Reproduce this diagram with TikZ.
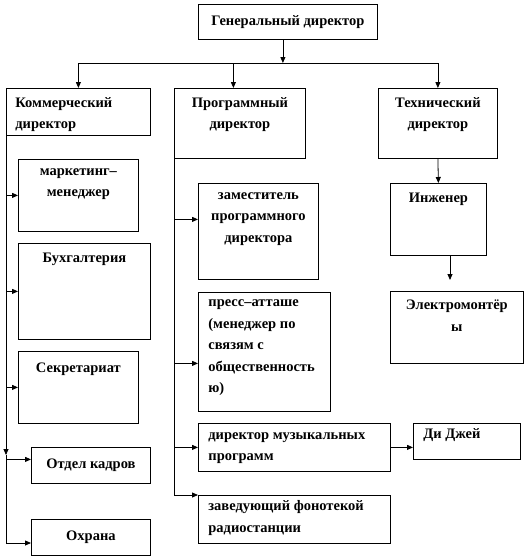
\documentclass[tikz,border=0pt]{standalone}
\usepackage{fontspec}
\setmainfont{Liberation Serif}
\usetikzlibrary{positioning,arrows.meta}

\begin{document}
\begin{tikzpicture}[
  x=1pt, y=-1pt, line width=0.8pt,
  font=\fontsize{14.5}{21.5}\selectfont\bfseries,
  blok/.style={draw, anchor=north west, inner sep=0pt},
  txt/.style={inner sep=0pt, align=center, execute at begin node={\rule{0pt}{10.5pt}}},
  txtl/.style={txt, align=left},
  flecha/.style={-{Triangle[length=6pt,width=5pt]}}
]
  \useasboundingbox (0,0) rectangle (525,558);

  \node[blok, minimum width=179pt, minimum height=35pt] (gd) at (198,4) {Генеральный директор};

  \node[blok, minimum width=144pt, minimum height=47pt] (komm) at (6,88) {};
  \node[txtl, anchor=north west] (kommt) at ([xshift=9pt, yshift=-9pt]komm.north west) {Коммерческий\\директор};
  \node[blok, minimum width=131pt, minimum height=70pt] (prog) at (174,88) {};
  \node[txt, anchor=north] (progt) at ([yshift=-9pt]prog.north) {Программный\\директор};
  \node[blok, minimum width=119pt, minimum height=70pt] (tech) at (378,88) {};
  \node[txt, anchor=north] (techt) at ([yshift=-9pt]tech.north) {Технический\\директор};

  % коммерческий
  \node[blok, minimum width=120pt, minimum height=72pt] (mm) at (18,159) {};
  \node[txt, anchor=north] (mmt) at ([yshift=-9pt]mm.north) {маркетинг–\\менеджер};
  \node[blok, minimum width=132pt, minimum height=96pt] (buh) at (18,243) {};
  \node[txt, anchor=north] (buht) at ([yshift=-9pt]buh.north) {Бухгалтерия};
  \node[blok, minimum width=120pt, minimum height=72pt] (sek) at (18,351) {};
  \node[txt, anchor=north] (sekt) at ([yshift=-10.5pt]sek.north) {Секретариат};
  \node[blok, minimum width=119pt, minimum height=36pt] (ok) at (31,447) {Отдел кадров};
  \node[blok, minimum width=119pt, minimum height=36pt] (ohr) at (31,519) {Охрана};

  % программный
  \node[blok, minimum width=120pt, minimum height=96pt] (zam) at (198,183) {};
  \node[txt, anchor=north] (zamt) at ([yshift=-9pt]zam.north) {заместитель\\программного\\директора};
  \node[blok, minimum width=132pt, minimum height=119pt] (press) at (198,292) {};
  \node[txtl, anchor=north west] (presst) at ([xshift=10pt, yshift=-7.5pt]press.north west) {пресс–атташе\\(менеджер по\\связям с\\общественность\\ю)};
  \node[blok, minimum width=192pt, minimum height=48pt] (muz) at (198,423) {};
  \node[txtl, anchor=north west] (muzt) at ([xshift=10pt, yshift=-9pt]muz.north west) {директор музыкальных\\программ};
  \node[blok, minimum width=192pt, minimum height=48pt] (zav) at (198,495) {};
  \node[txtl, anchor=north west] (zavt) at ([xshift=10pt, yshift=-5.5pt]zav.north west) {заведующий фонотекой\\радиостанции};
  \node[blok, minimum width=107pt, minimum height=36pt] (dj) at (413,423) {};
  \node[txtl, anchor=north west] (djt) at ([xshift=10pt, yshift=-4.5pt]dj.north west) {Ди Джей};

  % технический
  \node[blok, minimum width=96pt, minimum height=72pt] (ing) at (390,183) {};
  \node[txt, anchor=north] (ingt) at ([yshift=-9pt]ing.north) {Инженер};
  \node[blok, minimum width=133pt, minimum height=72pt] (el) at (390,291) {};
  \node[txt, anchor=north] (elt) at ([yshift=-8.5pt]el.north) {Электромонтёр\\ы};

  \coordinate (bus) at (0,63);
  \coordinate (lk) at (6,455);
  \coordinate (lend) at (6,543);
  \coordinate (ie) at (450,280);

  \draw[flecha] ([xshift=-5pt]gd.south) -- ([xshift=-5pt]gd.south |- bus);
  \draw (komm.north |- bus) -- (tech.north |- bus);
  \draw[flecha] (komm.north |- bus) -- (komm.north);
  \draw[flecha] ([xshift=-6.5pt]prog.north |- bus) -- ([xshift=-6.5pt]prog.north);
  \draw[flecha] (tech.north |- bus) -- (tech.north);

  \draw[flecha] (komm.south west) -- (lk);
  \draw (lk) -- (lend);
  \draw[flecha] (komm.south west |- mm.west) -- (mm.west);
  \draw[flecha] (komm.south west |- buh.west) -- (buh.west);
  \draw[flecha] (komm.south west |- sek.west) -- (sek.west);
  \draw[flecha] ([yshift=6pt]ok.west -| komm.south west) -- ([yshift=6pt]ok.west);
  \draw[flecha] (lend) -- (lend -| ohr.west);

  \draw (prog.south west) -- (prog.south west |- zav.north);
  \draw[flecha] ([yshift=12pt]zam.west -| prog.south west) -- ([yshift=12pt]zam.west);
  \draw[flecha] ([yshift=-11.5pt]press.west -| prog.south west) -- ([yshift=-11.5pt]press.west);
  \draw[flecha] (prog.south west |- muz.west) -- (muz.west);
  \draw[flecha] (prog.south west |- zav.north) -- (zav.north west);
  \draw[flecha] (muz.east) -- (dj.west |- muz.east);

  \draw[flecha] (tech.south) -- (ing.north);
  \draw[flecha] (ing.south -| ie) -- (ie);
\end{tikzpicture}
\end{document}
